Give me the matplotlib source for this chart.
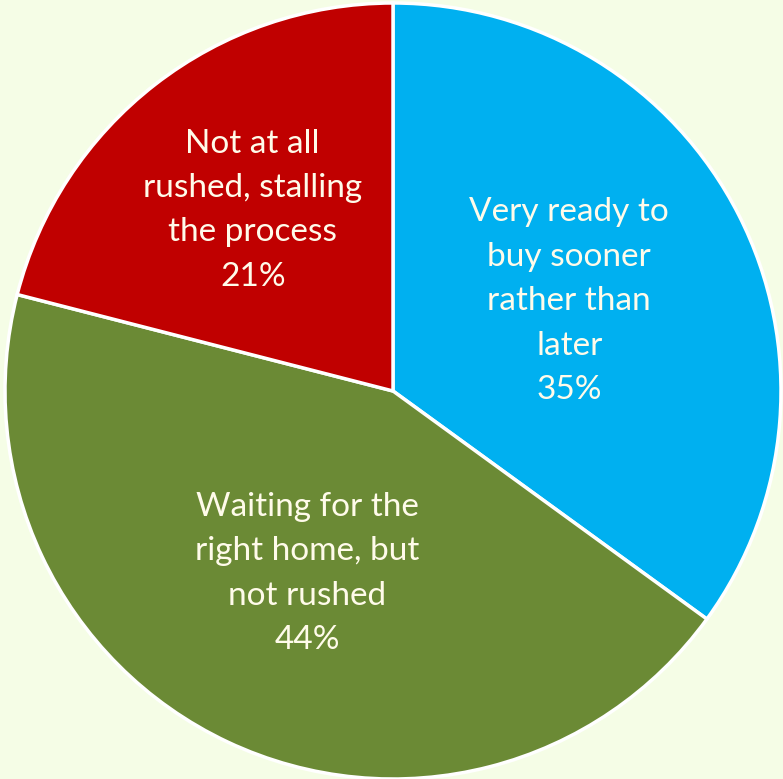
import matplotlib
matplotlib.use("Agg")
import matplotlib.pyplot as plt
import numpy as np

labels = ["Very ready to\nbuy sooner\nrather than\nlater",
          "Waiting for the\nright home, but\nnot rushed",
          "Not at all\nrushed, stalling\nthe process"]
values = [35, 44, 21]
colors = ["#00B0F0", "#6B8A35", "#C00000"]
label_dist = [0.51, 0.52, 0.59]

W, H = 783, 779
fig = plt.figure(figsize=(W / 100, H / 100), dpi=100)
fig.patch.set_facecolor("#F5FDE6")
ax = fig.add_axes([0, 0, 1, 1])

cx, cy, r = 393, H - 391, 388
wedges, _ = ax.pie(values, colors=colors, startangle=90, counterclock=False,
                   center=(cx, cy), radius=r, frame=True,
                   wedgeprops=dict(edgecolor="white", linewidth=2.5))
ax.set_xlim(0, W)
ax.set_ylim(0, H)
ax.set_aspect("equal")
ax.axis("off")

for w, lab, v, d in zip(wedges, labels, values, label_dist):
    ang = np.deg2rad((w.theta1 + w.theta2) / 2)
    x = cx + d * r * np.cos(ang)
    y = cy + d * r * np.sin(ang)
    ax.text(x, y, f"{lab}\n{v}%", ha="center", va="center", color="#FFFBEA",
            fontsize=24, family="Lato", linespacing=1.6)

fig.savefig("out.png", dpi=100, facecolor=fig.get_facecolor())
